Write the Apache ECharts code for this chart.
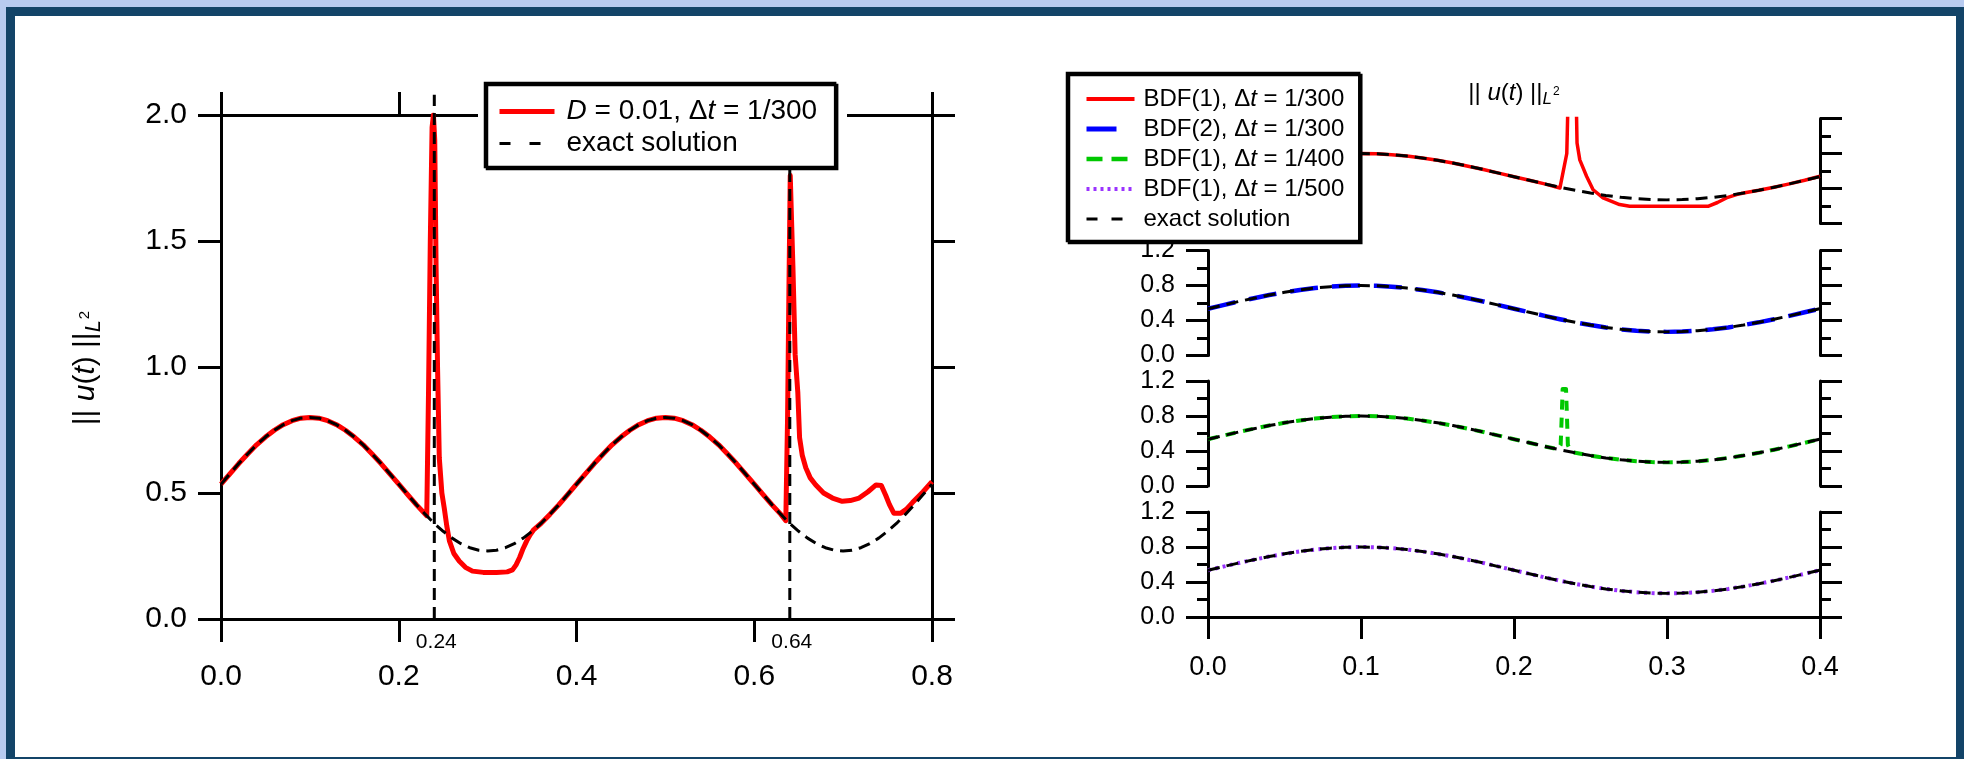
<!DOCTYPE html>
<html><head><meta charset="utf-8">
<script src="https://cdn.jsdelivr.net/npm/echarts@6.0.0/dist/echarts.min.js"></script>
<style>
html,body{margin:0;padding:0;width:1964px;height:759px;overflow:hidden;background:#b8cbf0;}
#frame{position:absolute;left:6px;top:7px;width:1959px;height:759px;box-sizing:border-box;border:9px solid #134468;background:#fff;}
#chart{position:absolute;left:0;top:0;width:1964px;height:759px;}
</style></head><body><div id="frame"></div><div id="chart"></div>
<script>
// ---------------- data ----------------
// Left panel: exact solution
const exactLeftX = [0.00,0.01,0.02,0.03,0.04,0.05,0.06,0.07,0.08,0.09,0.10,0.11,0.12,0.13,0.14,0.15,0.16,0.17,0.18,0.19,0.20,
  0.21,0.22,0.23,0.24,0.25,0.26,0.27,0.28,0.29,0.30,0.31,0.32,0.33,0.34,0.35,0.36,0.37,0.38,0.39,0.40,
  0.41,0.42,0.43,0.44,0.45,0.46,0.47,0.48,0.49,0.50,0.51,0.52,0.53,0.54,0.55,0.56,0.57,0.58,0.59,0.60,
  0.61,0.62,0.63,0.64,0.65,0.66,0.67,0.68,0.69,0.70,0.71,0.72,0.73,0.74,0.75,0.76,0.77,0.78,0.79,0.80];
const exactLeftY = [0.535,0.576,0.617,0.655,0.691,0.722,0.749,0.771,0.787,0.797,0.800,0.797,0.787,0.771,0.749,0.722,0.691,0.655,0.617,0.576,0.535,
  0.494,0.453,0.415,0.379,0.348,0.321,0.299,0.283,0.273,0.270,0.273,0.283,0.299,0.321,0.348,0.379,0.415,0.453,0.494,0.535,
  0.576,0.617,0.655,0.691,0.722,0.749,0.771,0.787,0.797,0.800,0.797,0.787,0.771,0.749,0.722,0.691,0.655,0.617,0.576,0.535,
  0.494,0.453,0.415,0.379,0.348,0.321,0.299,0.283,0.273,0.270,0.273,0.283,0.299,0.321,0.348,0.379,0.415,0.453,0.494,0.535];

// Left panel: numerical solution D = 0.01, dt = 1/300
const numLeftX = [0.00,0.01,0.02,0.03,0.04,0.05,0.06,0.07,0.08,0.09,0.10,0.11,0.12,0.13,0.14,0.15,0.16,0.17,0.18,0.19,0.20,0.21,0.22,
  0.2315,0.2335,0.2355,0.2375,0.239,0.2405,0.242,0.2437,0.2456,0.2485,0.2512,0.254,0.257,0.262,0.268,0.275,0.283,0.295,0.31,0.322,0.328,0.332,0.336,0.34,0.344,0.348,0.352,
  0.36,0.37,0.38,0.39,0.40,0.41,0.42,0.43,0.44,0.45,0.46,0.47,0.48,0.49,0.50,0.51,0.52,0.53,0.54,0.55,0.56,0.57,0.58,0.59,0.60,0.61,0.62,0.63,
  0.6355,0.6375,0.639,0.6405,0.642,0.6435,0.646,0.649,0.651,0.654,0.658,0.663,0.669,0.678,0.688,0.699,0.708,0.718,0.728,0.737,0.743,0.748,0.752,0.757,0.765,0.771,0.778,0.79,0.80];
const numLeftY = [0.535,0.576,0.617,0.655,0.691,0.722,0.749,0.771,0.787,0.797,0.800,0.797,0.787,0.771,0.749,0.722,0.691,0.655,0.617,0.576,0.535,0.494,0.453,
  0.41,0.90,1.50,1.95,2.00,1.90,1.40,0.99,0.64,0.50,0.44,0.37,0.31,0.26,0.23,0.205,0.19,0.185,0.185,0.187,0.195,0.215,0.244,0.28,0.31,0.335,0.355,
  0.379,0.415,0.453,0.494,0.535,0.576,0.617,0.655,0.691,0.722,0.749,0.771,0.787,0.797,0.800,0.797,0.787,0.771,0.749,0.722,0.691,0.655,0.617,0.576,0.535,0.494,0.453,0.415,
  0.39,0.80,1.30,1.76,1.76,1.40,1.05,0.90,0.72,0.65,0.60,0.56,0.533,0.50,0.48,0.467,0.47,0.48,0.505,0.532,0.53,0.49,0.455,0.42,0.42,0.435,0.462,0.505,0.545];

// Left panel: vertical guide lines and their labels
const markerX = [0.24, 0.64];
const markerLabels = ['0.24', '0.64'];
const markerTop = 2.08;

// Right panels: exact solution (same in every panel)
const exactRightX = [0.00,0.01,0.02,0.03,0.04,0.05,0.06,0.07,0.08,0.09,0.10,0.11,0.12,0.13,0.14,0.15,0.16,0.17,0.18,0.19,0.20,
  0.21,0.22,0.23,0.24,0.25,0.26,0.27,0.28,0.29,0.30,0.31,0.32,0.33,0.34,0.35,0.36,0.37,0.38,0.39,0.40];
const exactRightY = [0.535,0.576,0.617,0.655,0.691,0.722,0.749,0.771,0.787,0.797,0.800,0.797,0.787,0.771,0.749,0.722,0.691,0.655,0.617,0.576,0.535,
  0.494,0.453,0.415,0.379,0.348,0.321,0.299,0.283,0.273,0.270,0.273,0.283,0.299,0.321,0.348,0.379,0.415,0.453,0.494,0.535];

// Panel 1: BDF(1), dt = 1/300
const bdf1dt300X = [0.00,0.01,0.02,0.03,0.04,0.05,0.06,0.07,0.08,0.09,0.10,0.11,0.12,0.13,0.14,0.15,0.16,0.17,0.18,0.19,0.20,0.21,0.22,
  0.23,0.2345,0.2353,0.236,0.240,0.2408,0.2412,0.243,0.2475,0.2517,0.2582,0.269,0.2756,0.3268,0.333,0.3388,0.3454,0.35,0.36,0.37,0.38,0.39,0.40];
const bdf1dt300Y = [0.535,0.576,0.617,0.655,0.691,0.722,0.749,0.771,0.787,0.797,0.800,0.797,0.787,0.771,0.749,0.722,0.691,0.655,0.617,0.576,0.535,0.494,0.453,
  0.405,0.80,1.40,2.00,2.00,1.30,0.92,0.727,0.537,0.386,0.292,0.216,0.197,0.197,0.24,0.292,0.33,0.348,0.379,0.415,0.453,0.494,0.540];

// Panel 2: BDF(2), dt = 1/300 (x = exactRightX)
const bdf2dt300Y = [0.535,0.576,0.617,0.655,0.691,0.722,0.749,0.771,0.787,0.797,0.800,0.797,0.787,0.771,0.749,0.722,0.691,0.655,0.617,0.576,0.535,
  0.494,0.453,0.415,0.379,0.348,0.321,0.299,0.283,0.273,0.270,0.273,0.283,0.299,0.321,0.348,0.379,0.415,0.453,0.494,0.535];

// Panel 3: BDF(1), dt = 1/400
const bdf1dt400X = [0.00,0.01,0.02,0.03,0.04,0.05,0.06,0.07,0.08,0.09,0.10,0.11,0.12,0.13,0.14,0.15,0.16,0.17,0.18,0.19,0.20,0.21,0.22,
  0.229,0.2305,0.2312,0.2318,0.234,0.2346,0.2352,0.237,
  0.24,0.25,0.26,0.27,0.28,0.29,0.30,0.31,0.32,0.33,0.34,0.35,0.36,0.37,0.38,0.39,0.40];
const bdf1dt400Y = [0.535,0.576,0.617,0.655,0.691,0.722,0.749,0.771,0.787,0.797,0.800,0.797,0.787,0.771,0.749,0.722,0.691,0.655,0.617,0.576,0.535,0.494,0.453,
  0.42,0.47,0.80,1.11,1.11,0.80,0.47,0.40,
  0.379,0.348,0.321,0.299,0.283,0.273,0.270,0.273,0.283,0.299,0.321,0.348,0.379,0.415,0.453,0.494,0.535];

// Panel 4: BDF(1), dt = 1/500 (x = exactRightX)
const bdf1dt500Y = [0.535,0.576,0.617,0.655,0.691,0.722,0.749,0.771,0.787,0.797,0.800,0.797,0.787,0.771,0.749,0.722,0.691,0.655,0.617,0.576,0.535,
  0.494,0.453,0.415,0.379,0.348,0.321,0.299,0.283,0.273,0.270,0.273,0.283,0.299,0.321,0.348,0.379,0.415,0.453,0.494,0.535];

// Names
const NAME_D = 'D = 0.01, Δt = 1/300';
const NAME_EXACT = 'exact solution';
const NAME_R1 = 'BDF(1), Δt = 1/300';
const NAME_R2 = 'BDF(2), Δt = 1/300';
const NAME_R3 = 'BDF(1), Δt = 1/400';
const NAME_R4 = 'BDF(1), Δt = 1/500';
const NORM_TITLE = '|| {i|u}({i|t}) ||{sub|L}{sup|2}';

// ---------------- chart ----------------
const FONT = "'Liberation Sans', Arial, Helvetica, sans-serif";
const K = '#000';
const RED = '#ff0000', BLUE = '#0000ff', GREEN = '#00c800', PURPLE = '#9a33ff';
const zip = (xs, ys) => xs.map((x, i) => [x, ys[i]]);
const fmt1 = v => v.toFixed(1);

function axis(o) {
  const a = {
    type: 'value',
    axisLine: {show: true, onZero: false, lineStyle: {color: K, width: 3}},
    axisTick: {show: true, inside: false, length: o.tickLen || 23, lineStyle: {color: K, width: 3}},
    axisLabel: {show: false},
    splitLine: {show: false},
    minorSplitLine: {show: false},
    minorTick: {show: false}
  };
  for (const k in o) if (k !== 'tickLen') a[k] = o[k];
  return a;
}
function labels(size, margin) {
  return {show: true, fontSize: size, fontFamily: FONT, color: K, margin: margin, formatter: fmt1,
          showMinLabel: true, showMaxLabel: true, hideOverlap: false};
}
function richNorm(S) {
  return {
    i: {fontStyle: 'italic', fontSize: S, fontFamily: FONT, fill: K, color: K},
    sub: {fontStyle: 'italic', fontSize: Math.round(S * 0.72), fontFamily: FONT, color: K, fill: K, padding: [Math.round(S * 0.5), 0, 0, 0]},
    sup: {fontSize: Math.round(S * 0.5), fontFamily: FONT, color: K, fill: K, padding: [0, 0, 3, 1]}
  };
}

const panelTops = [118.5, 250.5, 381, 512];
const grids = [{left: 221, top: 115, width: 711, height: 504, containLabel: false, outerBoundsMode: 'none'}];
panelTops.forEach(t => grids.push({left: 1208, top: t, width: 612, height: 105, containLabel: false, outerBoundsMode: 'none'}));

const xAxes = [
  axis({gridIndex: 0, position: 'bottom', min: 0, max: 0.8, interval: 0.2, axisLabel: labels(30, 43)}),
  axis({gridIndex: 0, position: 'top', min: 0, max: 0.8, interval: 0.2})
];
const yAxes = [
  axis({gridIndex: 0, position: 'left', min: 0, max: 2, interval: 0.5, axisLabel: labels(30, 34)}),
  axis({gridIndex: 0, position: 'right', min: 0, max: 2, interval: 0.5})
];
const minor = {show: true, splitNumber: 2, length: 11, lineStyle: {color: K, width: 3}};
for (let p = 0; p < 4; p++) {
  const last = p === 3;
  xAxes.push(axis({gridIndex: p + 1, position: 'bottom', min: 0, max: 0.4, interval: 0.1, show: last,
    tickLen: 22, axisLabel: last ? labels(27, 37) : {show: false}}));
  yAxes.push(axis({gridIndex: p + 1, position: 'left', min: 0, max: 1.2, interval: 0.4, tickLen: 22,
    axisLabel: labels(25, 33), minorTick: minor}));
  yAxes.push(axis({gridIndex: p + 1, position: 'right', min: 0, max: 1.2, interval: 0.4, tickLen: 22,
    minorTick: minor}));
}

function line(name, xi, yi, data, color, width, type, extra) {
  const s = {
    name: name, type: 'line', xAxisIndex: xi, yAxisIndex: yi, data: data,
    showSymbol: false, symbol: 'none', smooth: false, animation: false,
    lineStyle: {color: color, width: width, type: type || 'solid', cap: 'butt', join: 'round'},
    itemStyle: {color: color},
    emphasis: {disabled: true}
  };
  if (extra) Object.assign(s, extra);
  return s;
}
const DASH = [12, 7];
const series = [
  line(NAME_D, 0, 0, zip(numLeftX, numLeftY), RED, 5),
  line(NAME_EXACT, 0, 0, zip(exactLeftX, exactLeftY), K, 3, DASH)
];
markerX.forEach((mx, i) => {
  series.push(line('guide ' + markerLabels[i], 0, 0, [
    {value: [mx, 0], label: {show: true, position: 'bottom', distance: 13, offset: [2, 0], formatter: markerLabels[i],
      fontSize: 21, fontFamily: FONT, color: K}},
    [mx, markerTop]
  ], K, 3, DASH, {clip: false, symbol: 'circle', symbolSize: 0, showSymbol: true, label: {show: false}}));
});
const exactRight = zip(exactRightX, exactRightY);
series.push(
  line(NAME_R1, 2, 2, zip(bdf1dt300X, bdf1dt300Y), RED, 3.5),
  line(NAME_EXACT, 2, 2, exactRight, K, 3, DASH),
  line(NAME_R2, 3, 4, zip(exactRightX, bdf2dt300Y), BLUE, 4.5, [28, 14]),
  line(NAME_EXACT, 3, 4, exactRight, K, 3, DASH),
  line(NAME_R3, 4, 6, zip(bdf1dt400X, bdf1dt400Y), GREEN, 4, [10, 8]),
  line(NAME_EXACT, 4, 6, exactRight, K, 3, DASH),
  line(NAME_R4, 5, 8, zip(exactRightX, bdf1dt500Y), PURPLE, 4, [3, 4.5]),
  line(NAME_EXACT, 5, 8, exactRight, K, 3, DASH)
);

function legendText(size, lh, padLeft) {
  return {
    fontSize: size, fontFamily: FONT, color: K, lineHeight: lh, padding: [0, 0, 0, padLeft],
    rich: {i: {fontStyle: 'italic', fontSize: size, fontFamily: FONT, color: K, lineHeight: lh}}
  };
}
const legendFmt = name => name.replace(/^D /, '{i|D} ').replace('Δt', 'Δ{i|t}');
const legendBox = {
  backgroundColor: '#fff', borderColor: K, borderWidth: 2.5, borderRadius: 0,
  shadowColor: '#000', shadowBlur: 0, shadowOffsetX: 2, shadowOffsetY: 2, orient: 'vertical',
  itemHeight: 14, selectedMode: false, formatter: legendFmt, z: 4,
  itemStyle: {opacity: 0, borderWidth: 0}
};
const legends = [
  Object.assign({}, legendBox, {
    left: 485, top: 83, padding: [13, 18, 8, 12], itemWidth: 55, itemGap: 1, textStyle: legendText(28, 31, 7),
    data: [{name: NAME_D, lineStyle: {width: 5}}, {name: NAME_EXACT, lineStyle: {width: 3, type: [11, 19]}}]
  }),
  Object.assign({}, legendBox, {
    left: 1067, top: 73, padding: [11, 15, 7, 17], itemWidth: 48, itemGap: 0, textStyle: legendText(24, 30, 4),
    data: [
      {name: NAME_R1, lineStyle: {width: 4}},
      {name: NAME_R2, lineStyle: {width: 5, type: [30, 30]}},
      {name: NAME_R3, lineStyle: {width: 4.5, type: [16, 9]}},
      {name: NAME_R4, lineStyle: {width: 4, type: [3, 4]}},
      {name: NAME_EXACT, lineStyle: {width: 3, type: [11, 14]}}
    ]
  })
];

const graphics = [
  // white margin around the left legend (hides the top frame line there)
  {type: 'rect', z: 3, silent: true, shape: {x: 478, y: 76, width: 369, height: 100}, style: {fill: '#fff'}},
  // left y-axis title
  {type: 'text', z: 5, silent: true, x: 86, y: 368, rotation: Math.PI / 2,
   style: {text: NORM_TITLE, rich: richNorm(30), fontSize: 30, fontFamily: FONT, fill: K,
           align: 'center', verticalAlign: 'middle', textAlign: 'center', textVerticalAlign: 'middle'}},
  // right panel title
  {type: 'text', z: 5, silent: true, x: 1514, y: 93,
   style: {text: NORM_TITLE, rich: richNorm(24), fontSize: 24, fontFamily: FONT, fill: K,
           align: 'center', verticalAlign: 'middle', textAlign: 'center', textVerticalAlign: 'middle'}}
];

const chart = echarts.init(document.getElementById('chart'), null, {renderer: 'canvas', width: 1964, height: 759});
chart.setOption({
  animation: false,
  backgroundColor: 'transparent',
  textStyle: {fontFamily: FONT},
  tooltip: {show: false},
  grid: grids,
  xAxis: xAxes,
  yAxis: yAxes,
  legend: legends,
  series: series,
  graphic: graphics
});
</script></body></html>
